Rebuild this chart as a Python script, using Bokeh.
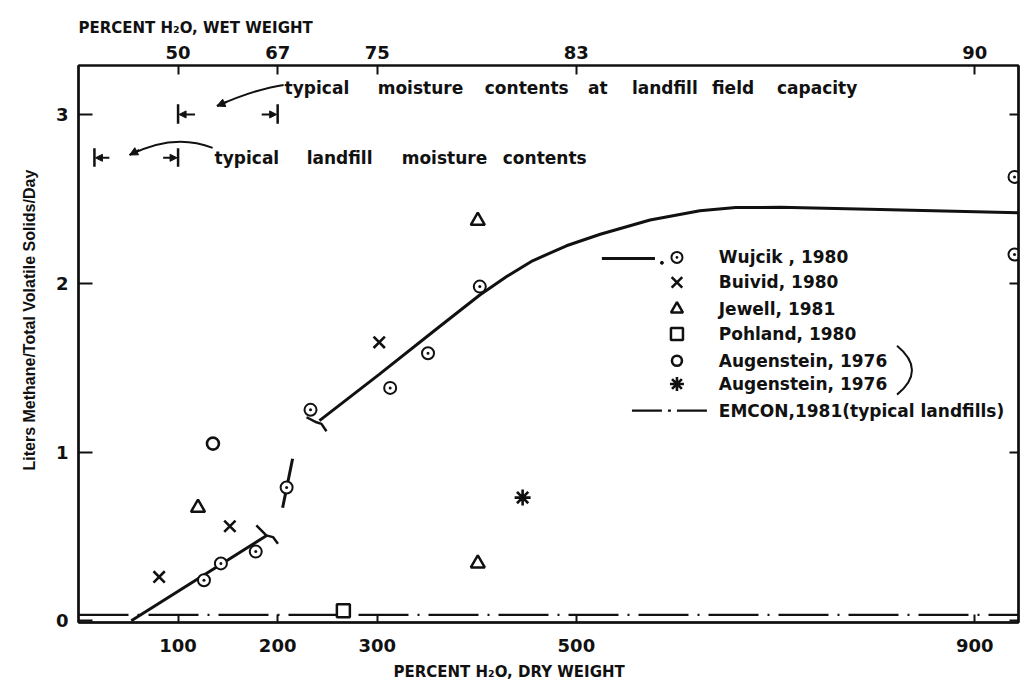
from bokeh.plotting import figure
from bokeh.models import LinearAxis, Range1d, FixedTicker, Arrow, NormalHead, Title
from bokeh.core.properties import value
from bokeh.embed import file_html
from bokeh.resources import INLINE

# ---- axis ticks -------------------------------------------------------------
dry_ticks = [100, 200, 300, 500, 900]          # percent H2O, dry weight
wet_labels = ["50", "67", "75", "83", "90"]     # same positions as percent H2O, wet weight
y_ticks = [0, 1, 2, 3]

# ---- observations (percent H2O dry weight, L CH4 / TVS / day) -----------------
wujcik_x = [126, 143, 178, 209, 233, 313, 351, 403, 940, 940]
wujcik_y = [0.24, 0.34, 0.41, 0.79, 1.25, 1.38, 1.585, 1.98, 2.63, 2.17]

buivid_x = [81, 152, 302]
buivid_y = [0.26, 0.56, 1.65]

jewell_x = [120, 401, 401]
jewell_y = [0.67, 0.34, 2.37]

pohland_x = [266]
pohland_y = [0.06]

augen_o_x = [135]
augen_o_y = [1.05]

augen_star_x = [446]
augen_star_y = [0.73]

# ---- Wujcik fitted curve (three pieces) ------------------------------------
fit1_x = [53, 189]
fit1_y = [0.0, 0.505]
fit2_x = [205, 215]
fit2_y = [0.67, 0.96]
fit3_x = [242, 302, 363, 403, 430, 456, 490, 524, 574, 624, 660, 705, 805, 944]
fit3_y = [1.186, 1.46, 1.745, 1.93, 2.04, 2.133, 2.222, 2.29, 2.375, 2.43, 2.448, 2.45, 2.437, 2.417]

# EMCON, 1981 typical landfill level
emcon_x = [0, 944]
emcon_y = [0.035, 0.035]

# ---- annotation words (left edge in % dry weight) -------------------------------
cap_words = ["typical", "moisture", "contents", "at", "landfill", "field", "capacity"]
cap_word_x = [207, 300.5, 408, 511.6, 555.8, 636.2, 701.5]
fill_words = ["typical", "landfill", "moisture", "contents"]
fill_word_x = [136.7, 229.1, 324.6, 426.1]

FONT = value("DejaVu Sans")
INK = "#111111"

p = figure(width=1023, height=691,
           x_range=Range1d(0, 944), y_range=Range1d(-0.01, 3.29),
           output_backend="svg", toolbar_location=None,
           min_border_left=78, min_border_right=5,
           min_border_top=65, min_border_bottom=69)
p.xgrid.visible = False
p.ygrid.visible = False
p.outline_line_color = INK
p.outline_line_width = 2
p.background_fill_color = "white"
p.border_fill_color = "white"


def style_axis(ax, tick_in, standoff, size="18px"):
    ax.axis_line_color = INK
    ax.axis_line_width = 2.5
    ax.major_tick_line_color = INK
    ax.major_tick_line_width = 2
    ax.major_tick_in = tick_in
    ax.major_tick_out = 0
    ax.minor_tick_line_color = None
    ax.major_label_standoff = standoff
    ax.major_label_text_font = "DejaVu Sans"
    ax.major_label_text_font_style = "bold"
    ax.major_label_text_font_size = size
    ax.major_label_text_color = INK


# bottom: dry weight
xax = p.xaxis[0]
xax.ticker = FixedTicker(ticks=dry_ticks)
style_axis(xax, 8, 16)

# left: methane rate
yax = p.yaxis[0]
yax.ticker = FixedTicker(ticks=y_ticks)
style_axis(yax, 14, 10)

# top: wet weight
top = LinearAxis(ticker=FixedTicker(ticks=dry_ticks),
                 major_label_overrides={t: s for t, s in zip(dry_ticks, wet_labels)})
style_axis(top, 9, 7)
top.axis_line_width = 2
p.add_layout(top, "above")

# right: unlabeled frame ticks
right = LinearAxis(ticker=FixedTicker(ticks=y_ticks),
                   major_label_overrides={t: "" for t in y_ticks})
style_axis(right, 9, 0, size="1px")
p.add_layout(right, "right")

# axis titles, stacked outside the axes
p.add_layout(Title(text="PERCENT H₂O, WET WEIGHT", align="left", standoff=12,
                   text_font="DejaVu Sans", text_font_style="bold",
                   text_font_size="15px", text_color=INK), "above")
p.add_layout(Title(text="PERCENT H₂O, DRY WEIGHT", align="left", offset=315,
                   standoff=13, text_font="DejaVu Sans", text_font_style="bold",
                   text_font_size="15px", text_color=INK), "below")
p.add_layout(Title(text="Liters Methane/Total Volatile Solids/Day", align="left",
                   offset=152, standoff=29, text_font="Liberation Sans",
                   text_font_style="bold", text_font_size="16px", text_color=INK), "left")

# ---- curves -------------------------------------------------------------------
p.line(emcon_x, emcon_y, line_color=INK, line_width=2.2, line_dash="50 9 2 9")
p.line(fit1_x, fit1_y, line_color=INK, line_width=3)
p.line(fit2_x, fit2_y, line_color=INK, line_width=3)
p.line(fit3_x, fit3_y, line_color=INK, line_width=3)

# bracket end caps on the fitted pieces
p.line([178.6, 188.6, 195.3, 200.3], [0.565, 0.506, 0.496, 0.457], line_color=INK, line_width=2.5)
p.line([229.0, 239.0, 244.0, 249.0], [1.206, 1.176, 1.167, 1.123], line_color=INK, line_width=2.5)

# ---- data points -----------------------------------------------------------
p.scatter(wujcik_x, wujcik_y, marker="circle_dot", size=12, line_width=2,
          line_color=INK, fill_color="white")
p.scatter(buivid_x, buivid_y, marker="x", size=16, line_width=2.6, line_color=INK)
p.scatter(jewell_x, jewell_y, marker="triangle", size=14, line_width=2.5,
          line_color=INK, fill_color="white")
p.scatter(pohland_x, pohland_y, marker="square", size=13, line_width=2.5,
          line_color=INK, fill_color="white")
p.scatter(augen_o_x, augen_o_y, marker="circle", size=12, line_width=2.6,
          line_color=INK, fill_color="white")
p.scatter(augen_star_x, augen_star_y, marker="asterisk", size=16, line_width=2.6,
          line_color=INK)

# ---- legend -----------------------------------------------------------------
leg_rows = [2.153, 2.005, 1.847, 1.699, 1.541, 1.403, 1.245]
leg_text = ["Wujcik , 1980", "Buivid, 1980", "Jewell, 1981", "Pohland, 1980",
            "Augenstein, 1976", "Augenstein, 1976", "EMCON,1981(typical landfills)"]
leg_mx = 601
p.line([525.6, 578.9], [2.147, 2.147], line_color=INK, line_width=3)
p.scatter([585.9], [2.121], marker="circle", size=3, fill_color=INK, line_color=INK)
p.scatter([leg_mx], [leg_rows[0]], marker="circle_dot", size=11, line_width=2,
          line_color=INK, fill_color="white")
p.scatter([leg_mx], [leg_rows[1]], marker="x", size=15, line_width=2.6, line_color=INK)
p.scatter([leg_mx], [leg_rows[2]], marker="triangle", size=12, line_width=2.5,
          line_color=INK, fill_color="white")
p.scatter([leg_mx], [leg_rows[3]], marker="square", size=12, line_width=2.5,
          line_color=INK, fill_color="white")
p.scatter([leg_mx], [leg_rows[4]], marker="circle", size=10, line_width=2.6,
          line_color=INK, fill_color="white")
p.scatter([leg_mx], [leg_rows[5]], marker="asterisk", size=14, line_width=2.6,
          line_color=INK)
p.line([555.8, 636.2], [leg_rows[6], leg_rows[6]], line_color=INK, line_width=2.2,
       line_dash="30 6 3 6")
p.text(x=[643] * len(leg_text), y=leg_rows, text=leg_text, text_font=FONT,
       text_font_style="bold", text_font_size="17px", text_color=INK,
       text_baseline="middle", text_align="left")
# brace joining the two Augenstein entries
p.quadratic(x0=[822], y0=[1.63], x1=[822], y1=[1.34], cx=[852], cy=[1.485],
            line_color=INK, line_width=2)

# ---- moisture range annotations -------------------------------------------------
# field capacity range (50-67 % wet)
p.segment(x0=[100, 200], y0=[2.945, 2.945], x1=[100, 200], y1=[3.06, 3.06],
          line_color=INK, line_width=2.5)
# typical landfill range
p.segment(x0=[16, 100], y0=[2.69, 2.69], x1=[16, 100], y1=[2.80, 2.80],
          line_color=INK, line_width=2.5)
for xs, xe, yy in [(117, 101, 3.0), (184, 199, 3.0), (31, 17, 2.743), (85, 99, 2.743)]:
    p.add_layout(Arrow(end=NormalHead(size=7, fill_color=INK, line_color=INK),
                       x_start=xs, y_start=yy, x_end=xe, y_end=yy,
                       line_color=INK, line_width=2))

p.quadratic(x0=[206], y0=[3.175], x1=[139], y1=[3.05], cx=[177.5], cy=[3.15],
            line_color=INK, line_width=2)
p.add_layout(Arrow(end=NormalHead(size=8, fill_color=INK, line_color=INK),
                   x_start=149, y_start=3.075, x_end=139, y_end=3.05,
                   line_color=INK, line_width=2))
p.quadratic(x0=[134.7], y0=[2.802], x1=[51.3], y1=[2.76], cx=[96], cy=[2.893],
            line_color=INK, line_width=2)
p.add_layout(Arrow(end=NormalHead(size=8, fill_color=INK, line_color=INK),
                   x_start=61, y_start=2.79, x_end=51.3, y_end=2.76,
                   line_color=INK, line_width=2))

p.text(x=cap_word_x, y=[3.157] * len(cap_words), text=cap_words,
       text_font=FONT, text_font_style="bold", text_font_size="17px", text_color=INK,
       text_baseline="middle", text_align="left")
p.text(x=fill_word_x, y=[2.743] * len(fill_words), text=fill_words,
       text_font=FONT, text_font_style="bold", text_font_size="17px", text_color=INK,
       text_baseline="middle", text_align="left")

open("out.html", "w").write(file_html(p, INLINE))
